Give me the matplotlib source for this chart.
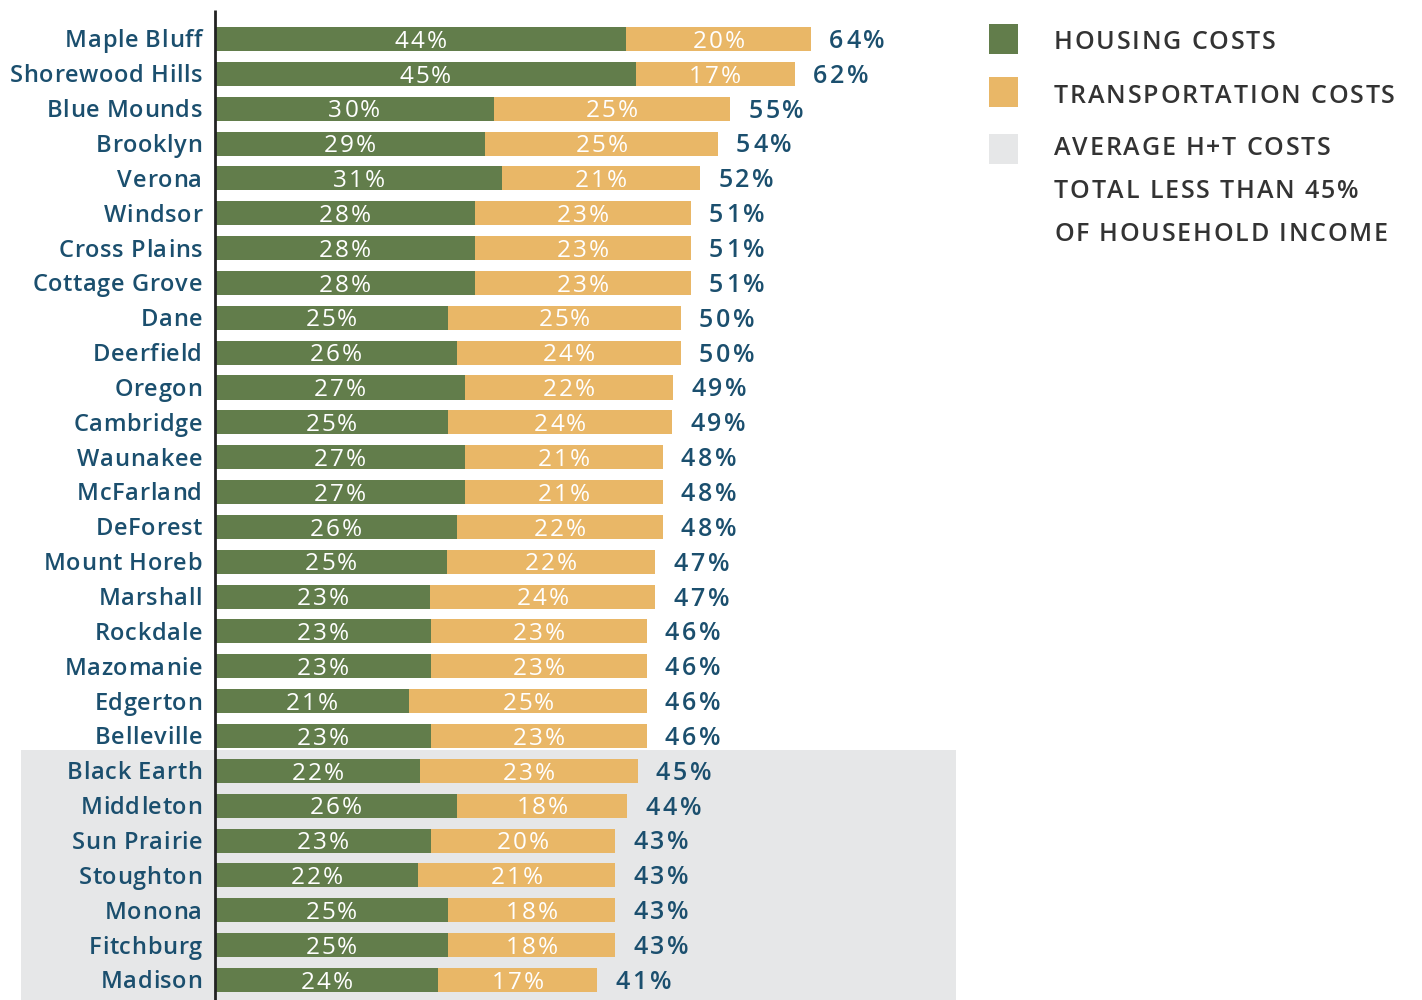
import matplotlib.pyplot as plt
from matplotlib.patches import Rectangle
from matplotlib.font_manager import FontProperties

cities = ['Maple Bluff', 'Shorewood Hills', 'Blue Mounds', 'Brooklyn', 'Verona',
          'Windsor', 'Cross Plains', 'Cottage Grove', 'Dane', 'Deerfield',
          'Oregon', 'Cambridge', 'Waunakee', 'McFarland', 'DeForest',
          'Mount Horeb', 'Marshall', 'Rockdale', 'Mazomanie', 'Edgerton',
          'Belleville', 'Black Earth', 'Middleton', 'Sun Prairie', 'Stoughton',
          'Monona', 'Fitchburg', 'Madison']
# bar lengths (% of household income)
housing = [43.96, 45.0, 29.8, 28.9, 30.7, 27.8, 27.8, 27.8, 24.9, 25.9,
           26.7, 24.9, 26.7, 26.7, 25.9, 24.8, 23.0, 23.1, 23.1, 20.8,
           23.1, 21.9, 25.9, 23.1, 21.7, 24.9, 24.9, 23.85]
transport = [19.78, 17.0, 25.3, 24.9, 21.2, 23.1, 23.1, 23.1, 24.9, 23.9,
             22.3, 24.0, 21.2, 21.2, 22.0, 22.3, 24.1, 23.1, 23.1, 25.4,
             23.1, 23.3, 18.2, 19.7, 21.1, 17.9, 17.9, 17.05]
legend_labels = ['HOUSING COSTS', 'TRANSPORTATION COSTS',
                 'AVERAGE H+T COSTS', 'TOTAL LESS THAN 45%', 'OF HOUSEHOLD INCOME']

green = '#627d4b'
yellow = '#e9b767'
grey = '#e6e7e8'
blue = '#1b4f6e'
W, H = 1422, 1000

plt.rcParams['font.family'] = ['Open Sans', 'DejaVu Sans']

fig = plt.figure(figsize=(W / 100, H / 100), dpi=100)
ax = fig.add_axes([215/W, 0, 741/W, 1])
ax.patch.set_visible(False)
renderer = fig.canvas.get_renderer()


def tracked(xd, yd, s, size, color, track, ha='left', weight='semibold'):
    """draw text letter by letter with extra spacing; xd, yd in display px,
    yd is the vertical centre of the capitals"""
    fp = FontProperties(family=['Open Sans', 'DejaVu Sans'], size=size, weight=weight)
    widths = []
    for c in s:
        w, _, _ = renderer.get_text_width_height_descent(c, fp, ismath=False)
        if c == ' ':
            w = size * 100 / 72 * 0.26
        widths.append(w)
    total = sum(widths) + track * (len(s) - 1)
    if ha == 'center':
        x = xd - total / 2
    elif ha == 'right':
        x = xd - total
    else:
        x = xd
    base = yd - 0.714 * size * 100 / 72 / 2
    for c, w in zip(s, widths):
        if c != ' ':
            fig.text(x / W, base / H, c, fontproperties=fp, color=color,
                     ha='left', va='baseline', zorder=5)
        x += w + track


n = len(cities)
rows = list(range(n))
ax.set_xlim(0, 79.25)
ax.set_ylim(27.575, -1.119)

ax.add_patch(Rectangle((-20.75, 20.4), 100, 10, facecolor=grey,
                       edgecolor='none', clip_on=False, zorder=0))

ax.barh(rows, housing, height=0.69, color=green, zorder=2)
ax.barh(rows, transport, left=housing, height=0.69, color=yellow, zorder=2)

ax.vlines(0, -0.83, 27.6, color='#222222', lw=2, zorder=4, clip_on=False)
ax.set_xticks([])
ax.set_yticks([])
for s in ax.spines.values():
    s.set_visible(False)

for i in rows:
    h, t = housing[i], transport[i]
    x0, yc = ax.transData.transform((0, i))
    xh, _ = ax.transData.transform((h / 2, i))
    xt, _ = ax.transData.transform((h + t / 2, i))
    xe, _ = ax.transData.transform((h + t, i))
    tracked(x0 - 13, yc, cities[i], 17, blue, 0.6, ha='right')
    tracked(xh, yc, f'{round(h)}%', 17.5, 'white', 2.0, ha='center', weight='normal')
    tracked(xt, yc, f'{round(t)}%', 17.5, 'white', 2.0, ha='center', weight='normal')
    tracked(xe + 18, yc, f'{round(h + t)}%', 18, blue, 2.8)

# legend
for col, yc in [(green, 39), (yellow, 92), (grey, 149)]:
    fig.patches.append(Rectangle((989/W, 1 - (yc + 14.5)/H), 29/W, 29/H,
                                 facecolor=col, edgecolor='none',
                                 transform=fig.transFigure, figure=fig))
for yc, lab in zip([40, 94, 146, 189, 232], legend_labels):
    tracked(1054, H - yc, lab, 18, '#333333', 1.8)

plt.savefig('out.png', dpi=100)
